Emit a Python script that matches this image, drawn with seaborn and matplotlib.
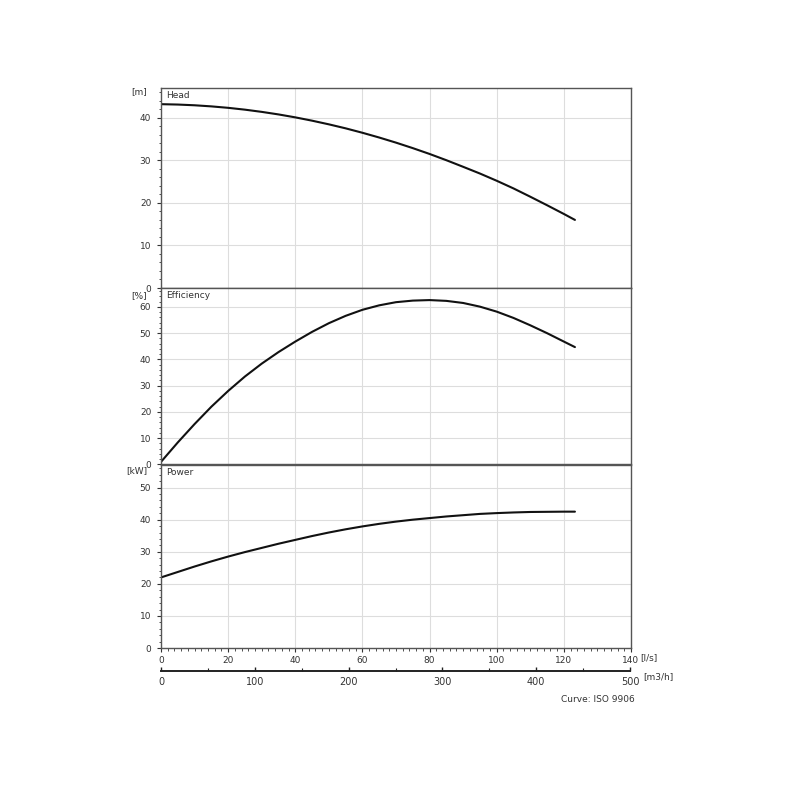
import numpy as np
import pandas as pd
import matplotlib
matplotlib.use("Agg")
import matplotlib.pyplot as plt
import seaborn as sns
from matplotlib.ticker import MultipleLocator

# Data (flow in l/s)
flow = [0, 5, 10, 15, 20, 25, 30, 35, 40, 45, 50, 55, 60, 65, 70, 75, 80,
        85, 90, 95, 100, 105, 110, 115, 120, 123.3]
head_m = [43.2, 43.11, 42.94, 42.68, 42.34, 41.91, 41.39, 40.79, 40.1, 39.32, 38.46, 37.52, 36.48,
          35.36, 34.16, 32.87, 31.5, 30.03, 28.48, 26.9, 25.2, 23.4, 21.45, 19.45, 17.4, 16.0]
eff_pct = [1.0, 8.4, 15.4, 22.0, 28.0, 33.5, 38.4, 42.8, 46.8, 50.5, 53.8, 56.6, 58.9,
           60.6, 61.8, 62.4, 62.6, 62.3, 61.5, 60.1, 58.2, 55.8, 53.0, 50.0, 46.8, 44.7]
power_kw = [22.0, 23.7, 25.4, 27.0, 28.5, 29.9, 31.2, 32.5, 33.7, 34.9, 36.0, 37.0, 37.9,
            38.7, 39.4, 40.0, 40.5, 41.0, 41.4, 41.8, 42.05, 42.25, 42.4, 42.45, 42.5, 42.5]

panel_titles = ["Head", "Efficiency", "Power"]
unit_labels = ["[m]", "[%]", "[kW]"]
ylims = [(0, 47), (0, 67.2), (0, 57.2)]
yticks = [[0, 10, 20, 30, 40], [0, 10, 20, 30, 40, 50, 60], [0, 10, 20, 30, 40, 50]]
xticks_ls = [0, 20, 40, 60, 80, 100, 120, 140]
xticks_m3h = [0, 100, 200, 300, 400, 500]

sns.set_theme(style="white")
plt.rcParams['font.family'] = ['DejaVu Sans']

fig = plt.figure(figsize=(8, 8), dpi=100)
L, R = 161 / 800, 631 / 800
W = R - L
bounds = [(88, 288), (288, 464.5), (464.5, 648)]
unit_y = [92, 296, 471]
series = [head_m, eff_pct, power_kw]

frame_col = "#555555"
grid_col = "#dddddd"
txt_col = "#333333"
axes = []
for i, (top, bot) in enumerate(bounds):
    ax = fig.add_axes([L, 1 - bot / 800, W, (bot - top) / 800])
    axes.append(ax)
    df = pd.DataFrame({"q": flow, "v": series[i]})
    sns.lineplot(data=df, x="q", y="v", ax=ax, color="#111111", linewidth=1.5)
    ax.set_xlim(0, 140)
    ax.set_ylim(*ylims[i])
    ax.set_yticks(yticks[i])
    ax.yaxis.set_minor_locator(MultipleLocator(2))
    ax.set_xticks(xticks_ls)
    ax.xaxis.set_minor_locator(MultipleLocator(2))
    ax.grid(True, which="major", color=grid_col, linewidth=0.8)
    ax.set_xlabel("")
    ax.set_ylabel("")
    for s in ax.spines.values():
        s.set_color(frame_col)
        s.set_linewidth(1.0)
    ax.tick_params(axis="y", which="major", direction="out", length=3, width=0.8,
                   color=txt_col, labelsize=6.5, labelcolor=txt_col, pad=4, left=True)
    ax.tick_params(axis="y", which="minor", direction="out", length=1.8, width=0.6,
                   color=txt_col, left=True)
    if i < 2:
        ax.tick_params(axis="x", which="both", bottom=False, labelbottom=False)
    else:
        ax.tick_params(axis="x", which="major", direction="out", length=3, width=0.8,
                       color=txt_col, labelsize=6.5, labelcolor=txt_col, pad=3, bottom=True)
        ax.tick_params(axis="x", which="minor", direction="out", length=1.8, width=0.6,
                       color=txt_col, bottom=True)
    ax.text(0.011, 1.0 - 3 / (bot - top), panel_titles[i], transform=ax.transAxes,
            ha="left", va="top", fontsize=6.5, color=txt_col)
    fig.text(147 / 800, 1 - unit_y[i] / 800, unit_labels[i],
             ha="right", va="center", fontsize=6.5, color=txt_col)

axes[2].text(1.02, -0.05, "[l/s]", transform=axes[2].transAxes, ha="left", va="center",
             fontsize=6.5, color=txt_col)

# secondary flow axis in m3/h
ax2 = fig.add_axes([L, 1 - 671 / 800, (630 - 161) / 800, 0.0001])
ax2.set_xlim(0, 500)
ax2.set_xticks(xticks_m3h)
ax2.xaxis.set_minor_locator(MultipleLocator(50))
ax2.set_yticks([])
for k in ["top", "left", "right"]:
    ax2.spines[k].set_visible(False)
ax2.spines["bottom"].set_color("#222222")
ax2.spines["bottom"].set_linewidth(1.4)
ax2.patch.set_alpha(0)
ax2.tick_params(axis="x", which="major", direction="in", length=3, width=1.0, color="#222222",
                labelsize=7, labelcolor=txt_col, pad=4, bottom=True)
ax2.tick_params(axis="x", which="minor", direction="in", length=2, width=0.8, color="#222222", bottom=True)
fig.text(643 / 800, 1 - 677 / 800, "[m3/h]", ha="left", va="center", fontsize=6.5, color=txt_col)
fig.text(598 / 800, 1 - 699 / 800, "Curve: ISO 9906", ha="center", va="center", fontsize=6.5, color=txt_col)

fig.savefig("out.png", dpi=100, facecolor="white")
